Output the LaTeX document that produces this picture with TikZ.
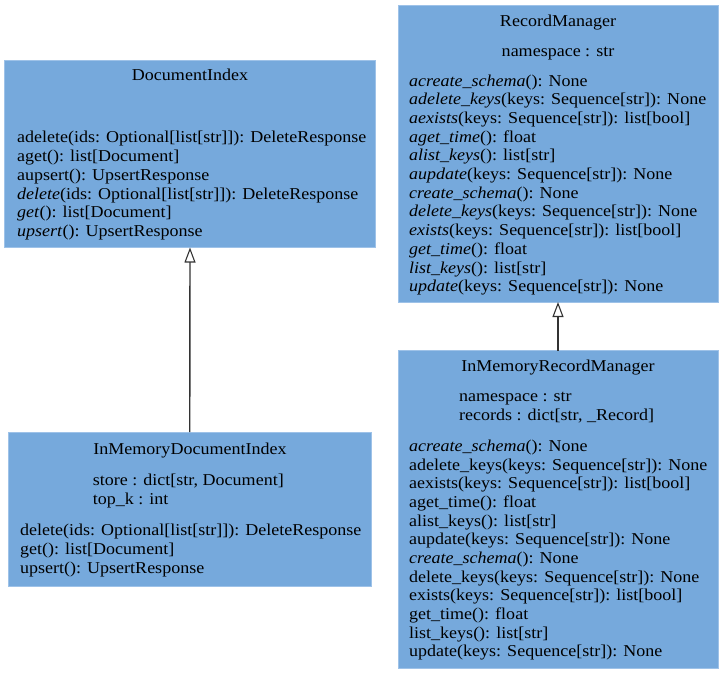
\documentclass[tikz,border=0pt]{standalone}
\usepackage{fontspec}
\setmainfont{Liberation Serif}[FakeStretch=1.085]
\usetikzlibrary{arrows.meta}
\definecolor{boxfill}{HTML}{76A9DC}
\definecolor{boxedge}{HTML}{9EC2E8}
\definecolor{edgecol}{HTML}{333333}
\tikzset{
  classbox/.style={draw=boxedge, fill=boxfill, line width=1pt, inner sep=0pt, outer sep=0pt, anchor=north west},
  txt/.style={font=\fontsize{16.6}{18}\selectfont, inner sep=0pt, anchor=base west},
  ttl/.style={font=\fontsize{16.6}{18}\selectfont, inner sep=0pt, anchor=base},
  inherit/.style={draw=edgecol, line width=1.4pt, -{Triangle[open, length=15pt, width=11pt, line width=1.1pt]}},
}
\begin{document}
\begin{tikzpicture}[x=1pt,y=-1pt]
\useasboundingbox (0,0) rectangle (723,673);
% boxes
\node[classbox, minimum width=371pt, minimum height=187.5pt] (di) at (4.5,60) {};
\node[classbox, minimum width=320pt, minimum height=297pt] (rm) at (398,5) {};
\node[classbox, minimum width=362.5pt, minimum height=154pt] (imdi) at (8.5,432) {};
\node[classbox, minimum width=320pt, minimum height=317.5pt] (imrm) at (398,350.5) {};
% DocumentIndex
\node[ttl] (di-t) at (190,80.5) {DocumentIndex};
\foreach \t [count=\i from 0] in {
  {adelete(ids: Optional[list[str]]): DeleteResponse},
  {aget(): list[Document]},
  {aupsert(): UpsertResponse},
  {\textit{delete}(ids: Optional[list[str]]): DeleteResponse},
  {\textit{get}(): list[Document]},
  {\textit{upsert}(): UpsertResponse}}
  \node[txt] (di-m\i) at (17,142.3+18.9*\i) {\t};
% RecordManager
\node[ttl] (rm-t) at (558,26) {RecordManager};
\node[ttl] (rm-a0) at (558,56.7) {namespace : str};
\foreach \t [count=\i from 0] in {
  {\textit{acreate\_schema}(): None},
  {\textit{adelete\_keys}(keys: Sequence[str]): None},
  {\textit{aexists}(keys: Sequence[str]): list[bool]},
  {\textit{aget\_time}(): float},
  {\textit{alist\_keys}(): list[str]},
  {\textit{aupdate}(keys: Sequence[str]): None},
  {\textit{create\_schema}(): None},
  {\textit{delete\_keys}(keys: Sequence[str]): None},
  {\textit{exists}(keys: Sequence[str]): list[bool]},
  {\textit{get\_time}(): float},
  {\textit{list\_keys}(): list[str]},
  {\textit{update}(keys: Sequence[str]): None}}
  \node[txt] (rm-m\i) at (409,86+18.7*\i) {\t};
% InMemoryDocumentIndex
\node[ttl] (imdi-t) at (190,454.3) {InMemoryDocumentIndex};
\node[txt] (imdi-a0) at (92.7,485) {store : dict[str, Document]};
\node[txt] (imdi-a1) at (92.7,504) {top\_k : int};
\foreach \t [count=\i from 0] in {
  {delete(ids: Optional[list[str]]): DeleteResponse},
  {get(): list[Document]},
  {upsert(): UpsertResponse}}
  \node[txt] (imdi-m\i) at (20,535+19.4*\i) {\t};
% InMemoryRecordManager
\node[ttl] (imrm-t) at (558,371.5) {InMemoryRecordManager};
\node[txt] (imrm-a0) at (459,401.7) {namespace : str};
\node[txt] (imrm-a1) at (459,420.6) {records : dict[str, \_Record]};
\foreach \t [count=\i from 0] in {
  {\textit{acreate\_schema}(): None},
  {adelete\_keys(keys: Sequence[str]): None},
  {aexists(keys: Sequence[str]): list[bool]},
  {aget\_time(): float},
  {alist\_keys(): list[str]},
  {aupdate(keys: Sequence[str]): None},
  {\textit{create\_schema}(): None},
  {delete\_keys(keys: Sequence[str]): None},
  {exists(keys: Sequence[str]): list[bool]},
  {get\_time(): float},
  {list\_keys(): list[str]},
  {update(keys: Sequence[str]): None}}
  \node[txt] (imrm-m\i) at (409,451.7+18.63*\i) {\t};
% inheritance
\draw[inherit] (imdi.north) -- (di.south);
\draw[inherit] (imrm.north) -- (rm.south);
\end{tikzpicture}
\end{document}
